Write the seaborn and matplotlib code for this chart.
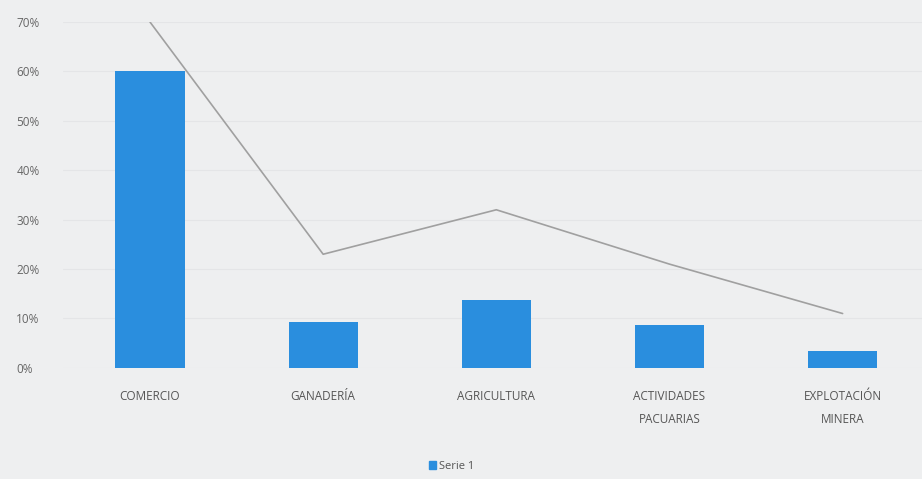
import matplotlib
matplotlib.use("Agg")
import matplotlib.pyplot as plt
import seaborn as sns
import pandas as pd
from matplotlib.ticker import FuncFormatter
from matplotlib.patches import Patch

categories = ["COMERCIO", "GANADERÍA", "AGRICULTURA", "ACTIVIDADES\nPACUARIAS", "EXPLOTACIÓN\nMINERA"]
serie1 = [0.60, 0.093, 0.138, 0.087, 0.035]
linea = [0.70, 0.23, 0.32, 0.21, 0.11]
yticks = [0, 0.1, 0.2, 0.3, 0.4, 0.5, 0.6, 0.7]

sns.set_theme(style="white")
plt.rcParams['font.family'] = ['Open Sans', 'DejaVu Sans']

bg = "#eeeff0"
fig = plt.figure(figsize=(9.22, 4.79), dpi=100, facecolor=bg)
ax = fig.add_axes([0.0688, 0.232, 0.939, 0.722])
ax.set_facecolor(bg)

df = pd.DataFrame({"cat": categories, "serie1": serie1, "linea": linea})
sns.barplot(data=df, x="cat", y="serie1", color="#2a8ede", saturation=1, width=0.4,
            linewidth=0, edgecolor="none", ax=ax)
sns.lineplot(x=list(range(len(categories))), y=df["linea"], color="#a0a0a0", linewidth=1.2, ax=ax)

ax.set_ylim(0, 0.7)
ax.set_xlim(-0.5, 4.5)
ax.set_yticks(yticks)
ax.yaxis.set_major_formatter(FuncFormatter(lambda v, p: f"{v*100:.0f}%"))
ax.grid(axis="y", color="#e4e5e7", linewidth=0.8)
ax.set_axisbelow(True)
for s in ax.spines.values():
    s.set_visible(False)
ax.set_xlabel("")
ax.set_ylabel("")
ax.tick_params(axis="y", labelsize=8.5, labelcolor="#666666", length=0, pad=34)
ax.tick_params(axis="x", labelsize=8.5, labelcolor="#555555", length=0, pad=16)
ax.set_xticks(range(len(categories)))
ax.set_xticklabels(categories, linespacing=2.0)
for lbl in ax.get_yticklabels():
    lbl.set_horizontalalignment("left")

leg = fig.legend(handles=[Patch(color="#2a8ede", label="Serie 1")], loc="center",
                 bbox_to_anchor=(0.49, 0.026), frameon=False, fontsize=8,
                 handlelength=0.6, handleheight=0.8, handletextpad=0.3, labelcolor="#555555")

fig.savefig("out.png", dpi=100, facecolor=bg)
